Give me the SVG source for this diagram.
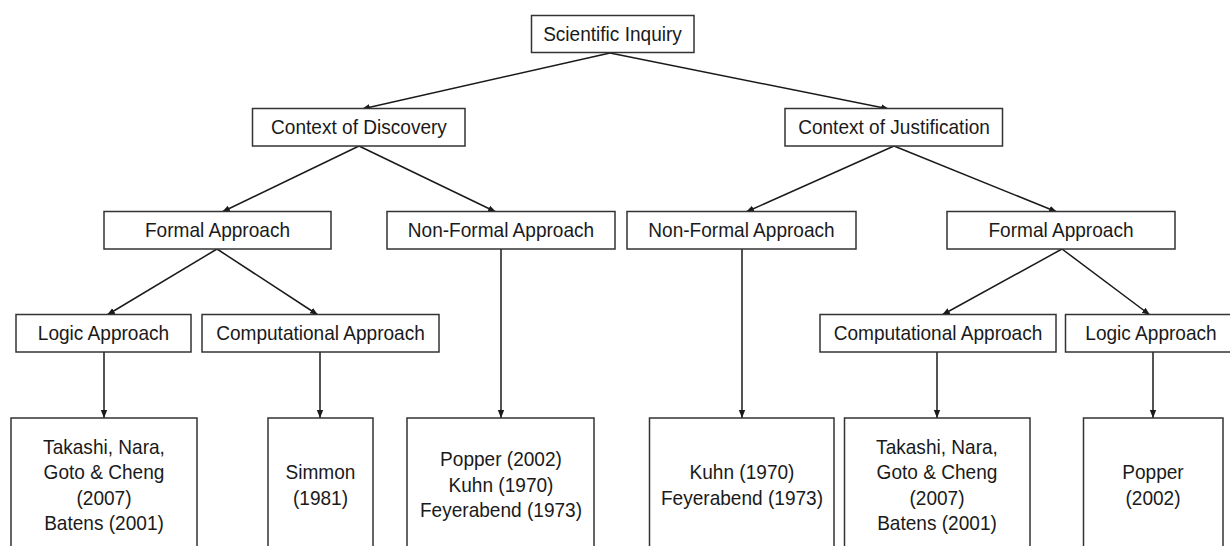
<svg xmlns="http://www.w3.org/2000/svg" width="1230" height="546" viewBox="0 0 1230 546">
<defs>
<marker id="ah" viewBox="0 0 10 10" refX="10" refY="5" markerWidth="8" markerHeight="8" markerUnits="userSpaceOnUse" orient="auto">
<path d="M0,1 L10,5 L0,9 Z" fill="#1a1a1a"/>
</marker>
<style>
.box{fill:#fff;stroke:#333;stroke-width:1.5}
.t{font-family:"Liberation Sans",Arial,sans-serif;font-size:20.5px;fill:#1a1a1a;text-anchor:middle;transform-box:fill-box;transform-origin:center;transform:scaleX(0.93)}
.c{stroke:#1a1a1a;stroke-width:1.5;fill:none;marker-end:url(#ah)}
</style>
</defs>
<rect width="1230" height="546" fill="#fff"/>
<g id="connectors">
<line class="c" x1="610" y1="53" x2="362" y2="109"/>
<line class="c" x1="610" y1="53" x2="889" y2="109"/>
<line class="c" x1="359" y1="146" x2="222" y2="212"/>
<line class="c" x1="359" y1="146" x2="496" y2="212"/>
<line class="c" x1="894" y1="146" x2="746" y2="212"/>
<line class="c" x1="894" y1="146" x2="1057" y2="212"/>
<line class="c" x1="217" y1="249" x2="107" y2="315"/>
<line class="c" x1="217" y1="249" x2="318" y2="315"/>
<line class="c" x1="1062" y1="249" x2="942" y2="315"/>
<line class="c" x1="1062" y1="249" x2="1150" y2="315"/>
<line class="c" x1="104" y1="352" x2="104" y2="418"/>
<line class="c" x1="320" y1="352" x2="320" y2="418"/>
<line class="c" x1="501" y1="249" x2="501" y2="418"/>
<line class="c" x1="742" y1="249" x2="742" y2="418"/>
<line class="c" x1="937" y1="352" x2="937" y2="418"/>
<line class="c" x1="1153" y1="352" x2="1153" y2="418"/>
</g>
<g id="scientific-inquiry">
<rect class="box" x="531.5" y="15.5" width="162.5" height="37"/>
<text class="t" x="612.5" y="41">Scientific Inquiry</text>
</g>
<g id="context-discovery">
<rect class="box" x="252.5" y="108.5" width="212.5" height="37.5"/>
<text class="t" x="359" y="134.5">Context of Discovery</text>
</g>
<g id="context-justification">
<rect class="box" x="785" y="108.5" width="217.5" height="37.5"/>
<text class="t" x="894" y="134.5">Context of Justification</text>
</g>
<g id="formal-left">
<rect class="box" x="104" y="211.5" width="227" height="37.5"/>
<text class="t" x="217.5" y="237.5">Formal Approach</text>
</g>
<g id="nonformal-left">
<rect class="box" x="387" y="211.5" width="228" height="37.5"/>
<text class="t" x="501" y="237.5">Non-Formal Approach</text>
</g>
<g id="nonformal-right">
<rect class="box" x="627" y="211.5" width="229" height="37.5"/>
<text class="t" x="741.5" y="237.5">Non-Formal Approach</text>
</g>
<g id="formal-right">
<rect class="box" x="947" y="211.5" width="228" height="37.5"/>
<text class="t" x="1061" y="237.5">Formal Approach</text>
</g>
<g id="logic-left">
<rect class="box" x="16" y="314.5" width="175" height="37.5"/>
<text class="t" x="103.5" y="340.5">Logic Approach</text>
</g>
<g id="computational-left">
<rect class="box" x="202" y="314.5" width="237" height="37.5"/>
<text class="t" x="320.5" y="340.5">Computational Approach</text>
</g>
<g id="computational-right">
<rect class="box" x="820" y="314.5" width="236" height="37.5"/>
<text class="t" x="938" y="340.5">Computational Approach</text>
</g>
<g id="logic-right">
<rect class="box" x="1065.5" y="314.5" width="175" height="37.5"/>
<text class="t" x="1151" y="340.5">Logic Approach</text>
</g>
<g id="leaf-takashi-left">
<rect class="box" x="11" y="418" width="186" height="140"/>
<text class="t" x="104" y="454">Takashi, Nara,</text>
<text class="t" x="104" y="479.5">Goto &amp; Cheng</text>
<text class="t" x="104" y="505">(2007)</text>
<text class="t" x="104" y="530.5">Batens (2001)</text>
</g>
<g id="leaf-simmon">
<rect class="box" x="268" y="418" width="105" height="140"/>
<text class="t" x="320.5" y="479.5">Simmon</text>
<text class="t" x="320.5" y="505">(1981)</text>
</g>
<g id="leaf-popper-kuhn-feyerabend">
<rect class="box" x="407" y="418" width="187" height="140"/>
<text class="t" x="501" y="466.5">Popper (2002)</text>
<text class="t" x="501" y="491.5">Kuhn (1970)</text>
<text class="t" x="501" y="517.5">Feyerabend (1973)</text>
</g>
<g id="leaf-kuhn-feyerabend">
<rect class="box" x="649.5" y="418" width="184.5" height="140"/>
<text class="t" x="742" y="479.5">Kuhn (1970)</text>
<text class="t" x="742" y="505">Feyerabend (1973)</text>
</g>
<g id="leaf-takashi-right">
<rect class="box" x="844.5" y="418" width="185.5" height="140"/>
<text class="t" x="937" y="454">Takashi, Nara,</text>
<text class="t" x="937" y="479.5">Goto &amp; Cheng</text>
<text class="t" x="937" y="505">(2007)</text>
<text class="t" x="937" y="530.5">Batens (2001)</text>
</g>
<g id="leaf-popper">
<rect class="box" x="1083.5" y="418" width="139.5" height="140"/>
<text class="t" x="1153" y="479.5">Popper</text>
<text class="t" x="1153" y="505">(2002)</text>
</g>
</svg>
